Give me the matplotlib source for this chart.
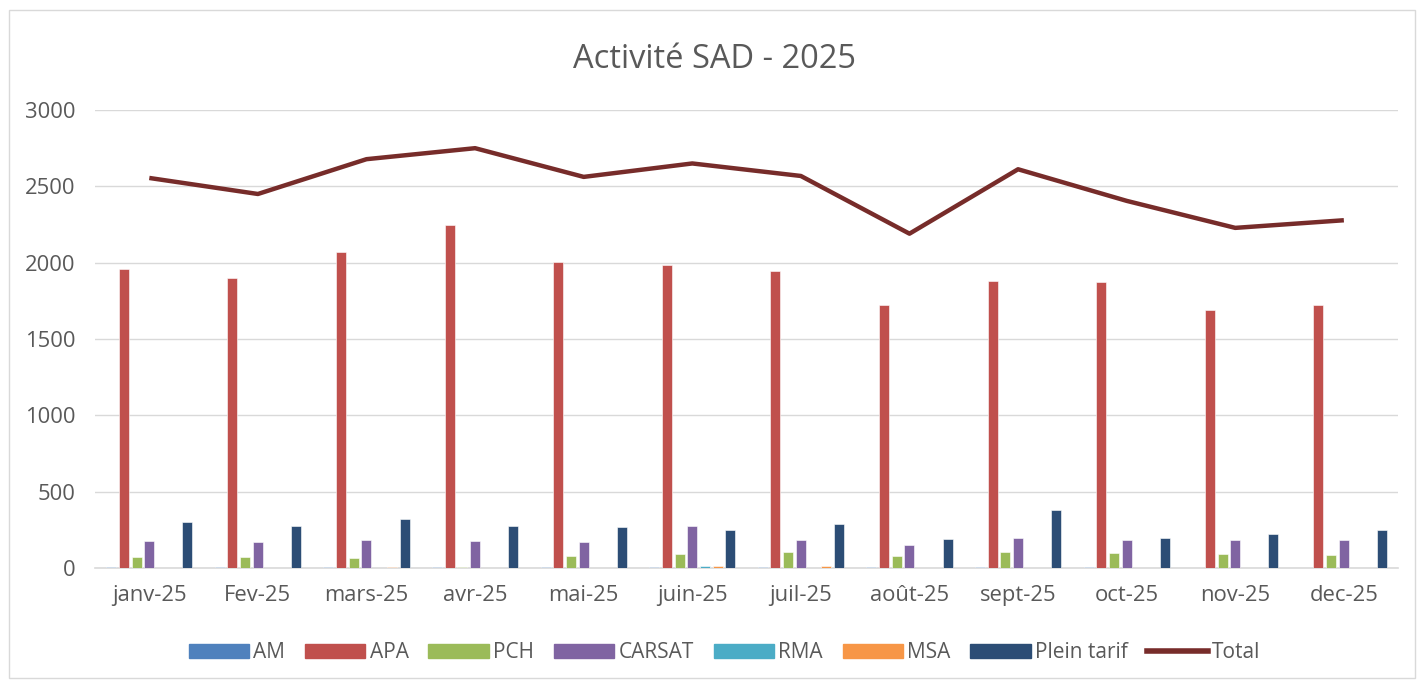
import numpy as np
import matplotlib.pyplot as plt
from matplotlib.patches import Rectangle
from matplotlib.lines import Line2D

months = ['janv-25', 'Fev-25', 'mars-25', 'avr-25', 'mai-25', 'juin-25',
          'juil-25', 'août-25', 'sept-25', 'oct-25', 'nov-25', 'dec-25']

am = [5, 4, 4, 5, 4, 5, 5, 4, 5, 5, 0, 0]
apa = [1960, 1900, 2070, 2250, 2005, 1985, 1945, 1720, 1880, 1875, 1690, 1720]
pch = [72, 72, 66, 8, 79, 92, 105, 79, 105, 100, 89, 85]
carsat = [177, 172, 183, 178, 172, 273, 183, 152, 197, 183, 183, 182]
rma = [0, 0, 0, 3, 3, 10, 0, 0, 0, 0, 0, 0]
msa = [3, 3, 5, 3, 3, 14, 15, 0, 0, 0, 0, 0]
plein = [300, 276, 322, 272, 270, 249, 288, 192, 382, 196, 225, 250]
total = [2555, 2450, 2678, 2750, 2562, 2650, 2568, 2190, 2612, 2405, 2228, 2278]

series = [('AM', am, '#4F81BD'), ('APA', apa, '#C0504D'), ('PCH', pch, '#9BBB59'),
          ('CARSAT', carsat, '#8064A2'), ('RMA', rma, '#4BACC6'),
          ('MSA', msa, '#F79646'), ('Plein tarif', plein, '#2C4D75')]

plt.rcParams['font.family'] = ['Open Sans', 'DejaVu Sans']
grey = '#595959'

fig = plt.figure(figsize=(14.18, 6.8), dpi=100)
ax = fig.add_axes([0.067, 0.1647, 0.919, 0.6735])

x = np.arange(len(months))
step = 0.117
width = 0.092
handles = []
for i, (name, vals, col) in enumerate(series):
    ax.bar(x + (i - 3) * step, vals, width, color=col, edgecolor='#ffffff',
           linewidth=0.4, zorder=3)
    handles.append(Rectangle((0, 0), 1, 1, color=col, label=name))

ax.plot(x, total, color='#772C2A', linewidth=3.2, zorder=4, solid_capstyle='butt')
handles.append(Line2D([0], [0], color='#772C2A', linewidth=4, label='Total'))

ax.set_xlim(-0.5, len(months) - 0.5)
ax.set_ylim(0, 3000)
ax.set_yticks(range(0, 3001, 500))
ax.set_xticks(x)
ax.set_xticklabels(months)
ax.yaxis.grid(True, color='#D9D9D9', linewidth=1, zorder=0)
for s in ['top', 'right', 'left']:
    ax.spines[s].set_visible(False)
ax.spines['bottom'].set_color('#D9D9D9')
ax.spines['bottom'].set_linewidth(1.2)
ax.tick_params(axis='both', length=0, labelsize=15.8, labelcolor=grey)
ax.tick_params(axis='x', pad=12)
ax.tick_params(axis='y', pad=14)

fig.text(0.504, 0.913, 'Activité SAD - 2025', ha='center', va='center',
         fontsize=23.5, color=grey)

fig.legend(handles=handles, loc='center', bbox_to_anchor=(0.511, 0.04), ncol=8,
           frameon=False, fontsize=15, labelcolor=grey, handlelength=2.9,
           handleheight=0.6, handletextpad=0.2, columnspacing=0.95)

fig.patches.append(Rectangle((0.006, 0.003), 0.992, 0.983, transform=fig.transFigure,
                             fill=False, edgecolor='#D9D9D9', linewidth=1))

fig.savefig('out.png', dpi=100)
